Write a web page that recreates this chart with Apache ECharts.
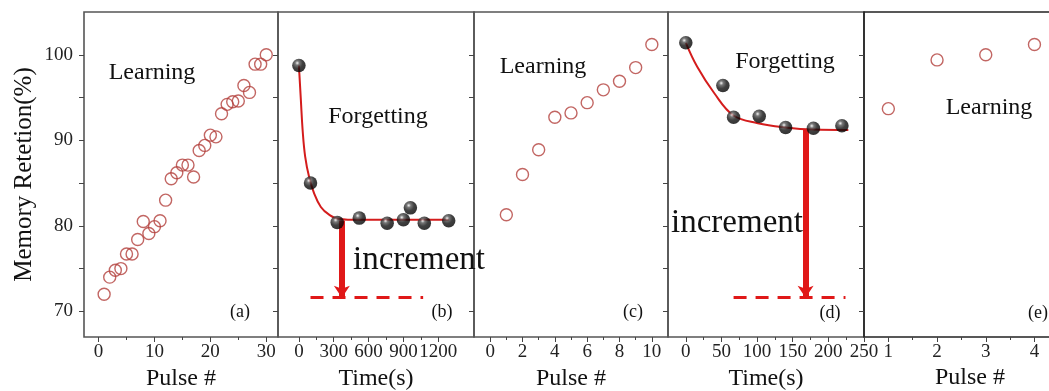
<!DOCTYPE html>
<html>
<head>
<meta charset="utf-8">
<script src="https://cdn.jsdelivr.net/npm/echarts@6/dist/echarts.min.js"></script>
<style>
  html, body { margin: 0; padding: 0; background: #fff; }
  #chart { width: 1049px; height: 391px; }
</style>
</head>
<body>
<div id="chart"></div>
<script>
// ---- data ----
// (a) learning, first round
const pulseA = [1,2,3,4,5,6,7,8,9,10,11,12,13,14,15,16,17,18,19,20,21,22,23,24,25,26,27,28,29,30];
const retentionA = [72.0,74.0,74.8,75.0,76.7,76.7,78.4,80.5,79.1,79.9,80.6,83.0,85.5,86.2,87.1,87.1,85.7,88.8,89.4,90.6,90.4,93.1,94.2,94.5,94.6,96.4,95.6,98.9,98.9,100.0];
// (b) forgetting after first round
const timeB = [0,100,330,520,760,900,960,1080,1290];
const retentionB = [98.75,85.0,80.4,80.9,80.3,80.7,82.1,80.3,80.6];
const fitTimeB = [0,17,32,54,88,131,189,260,345,517,1290];
const fitRetentionB = [98.75,94.7,91.2,88.1,85.7,83.8,82.2,81.3,80.8,80.7,80.7];
// (c) learning, second round
const pulseC = [1,2,3,4,5,6,7,8,9,10];
const retentionC = [81.3,86.0,88.9,92.7,93.2,94.4,95.9,96.9,98.5,101.2];
// (d) forgetting after second round
const timeD = [0,52,67,103,140,179,219];
const retentionD = [101.4,96.4,92.7,92.8,91.5,91.4,91.7];
const fitTimeD = [0,16,40,67,101,140,179,228];
const fitRetentionD = [101.4,98.6,95.5,92.9,92.0,91.5,91.25,91.2];
// (e) learning, third round
const pulseE = [1,2,3,4];
const retentionE = [93.7,99.4,100.0,101.2];

// increment markers: arrow [x, from, to] and dashed base [x0, x1, level]
const incrementB = { arrowX: 370, top: 80.6, bottom: 71.6, dashFrom: 100, dashTo: 1070 };
const incrementD = { arrowX: 168, top: 91.3, bottom: 71.6, dashFrom: 67, dashTo: 224 };

// axis ticks
const yRange = [67, 105];
const yMajor = [70, 80, 90, 100];
const yAll = [70, 75, 80, 85, 90, 95, 100];
const xTicksA = { range: [-2.6, 32.1], major: [0, 10, 20, 30], minor: [5, 15, 25] };
const xTicksB = { range: [-180, 1508], major: [0, 300, 600, 900, 1200], minor: [150, 450, 750, 1050] };
const xTicksC = { range: [-1, 11], major: [0, 2, 4, 6, 8, 10], minor: [1, 3, 5, 7, 9] };
const xTicksD = { range: [-25, 250], major: [0, 50, 100, 150, 200, 250], minor: [25, 75, 125, 175, 225] };
const xTicksE = { range: [0.5, 5.5], major: [1, 2, 3, 4, 5], minor: [1.5, 2.5, 3.5, 4.5] };

// ---- layout ----
const FONT = '"Liberation Serif", "Times New Roman", serif';
const TOP = 12, HEIGHT = 325;
// the last panel runs past the right edge of the page, so its axis title is placed by hand
const panels = [
  { left: 84,  width: 194, ticks: xTicksA, name: 'Pulse #' },
  { left: 278, width: 196, ticks: xTicksB, name: 'Time(s)' },
  { left: 474, width: 194, ticks: xTicksC, name: 'Pulse #' },
  { left: 668, width: 196, ticks: xTicksD, name: 'Time(s)' },
  { left: 864, width: 243.5, ticks: xTicksE, name: '' }
];

const plain = v => String(v);
const noLine = { show: false, onZero: false };

const grids = [], xAxes = [], yAxes = [];
panels.forEach((p, i) => {
  grids.push({
    left: p.left, top: TOP, width: p.width, height: HEIGHT,
    outerBoundsMode: 'none', containLabel: false,
    show: true, borderColor: i === 4 ? '#222' : '#555', borderWidth: 1.6,
    backgroundColor: 'transparent'
  });
  // labelled x axis with major ticks
  xAxes.push({
    type: 'value', gridIndex: i, position: 'bottom',
    min: p.ticks.range[0], max: p.ticks.range[1],
    axisLine: noLine, splitLine: { show: false },
    axisTick: { show: true, length: 5, customValues: p.ticks.major, lineStyle: { color: '#444', width: 1 } },
    axisLabel: { show: true, customValues: p.ticks.major, formatter: plain, margin: 6,
                 color: '#222', fontFamily: FONT, fontSize: 19 },
    name: p.name, nameLocation: 'middle', nameGap: 28,
    nameTextStyle: { fontFamily: FONT, fontSize: 24, color: '#111' }
  });
  // minor x ticks
  xAxes.push({
    type: 'value', gridIndex: i, position: 'bottom',
    min: p.ticks.range[0], max: p.ticks.range[1],
    axisLine: noLine, splitLine: { show: false },
    axisTick: { show: true, length: 3, customValues: p.ticks.minor, lineStyle: { color: '#444', width: 1 } },
    axisLabel: { show: false }
  });
  // left y axis (labels only on first panel)
  yAxes.push({
    type: 'value', gridIndex: i, position: 'left',
    min: yRange[0], max: yRange[1],
    axisLine: noLine, splitLine: { show: false },
    axisTick: { show: i === 0, inside: false, length: 5, customValues: yAll, lineStyle: { color: '#444' } },
    axisLabel: { show: i === 0, customValues: yMajor, formatter: plain, margin: 11,
                 color: '#222', fontFamily: FONT, fontSize: 19 },
    name: i === 0 ? 'Memory Retetion(%)' : '', nameLocation: 'middle', nameGap: 47,
    nameTextStyle: { fontFamily: FONT, fontSize: 25, color: '#111' }
  });
  // right y axis: inward ticks
  yAxes.push({
    type: 'value', gridIndex: i, position: 'right',
    min: yRange[0], max: yRange[1],
    axisLine: noLine, splitLine: { show: false },
    axisTick: { show: i < 4, inside: true, length: 5, customValues: yAll, lineStyle: { color: '#444' } },
    axisLabel: { show: false }
  });
});

const zip = (xs, ys) => xs.map((x, k) => [x, ys[k]]);

const hollow = (i, xs, ys) => ({
  type: 'scatter', xAxisIndex: i * 2, yAxisIndex: i * 2, data: zip(xs, ys),
  symbol: 'circle', symbolSize: 12, silent: true, z: 5,
  itemStyle: { color: 'rgba(255,255,255,0)', borderColor: '#b3403c', borderWidth: 1.4 }
});

const ball = {
  type: 'radial', x: 0.38, y: 0.32, r: 0.72,
  colorStops: [
    { offset: 0, color: '#f2f2f2' },
    { offset: 0.22, color: '#555' },
    { offset: 0.55, color: '#111' },
    { offset: 1, color: '#000' }
  ]
};
const solid = (i, xs, ys) => ({
  type: 'scatter', xAxisIndex: i * 2, yAxisIndex: i * 2, data: zip(xs, ys),
  symbol: 'circle', symbolSize: 13.5, silent: true, z: 6,
  itemStyle: { color: ball }
});

const RED = '#e01818';
const fit = (i, xs, ys, inc) => ({
  type: 'line', xAxisIndex: i * 2, yAxisIndex: i * 2, data: zip(xs, ys),
  smooth: 0.4, showSymbol: false, silent: true, z: 4,
  lineStyle: { color: '#d41c1c', width: 2 },
  markLine: {
    silent: true, animation: false, label: { show: false },
    data: [
      [ { coord: [inc.arrowX, inc.top], symbol: 'none' },
        { coord: [inc.arrowX, inc.bottom], symbol: 'arrow', symbolSize: [12, 12],
          lineStyle: { color: RED, width: 6, type: 'solid' } } ],
      [ { coord: [inc.dashFrom, inc.bottom], symbol: 'none' },
        { coord: [inc.dashTo, inc.bottom], symbol: 'none',
          lineStyle: { color: RED, width: 3, type: [13, 9] } } ]
    ]
  }
});

const series = [
  hollow(0, pulseA, retentionA),
  fit(1, fitTimeB, fitRetentionB, incrementB),
  solid(1, timeB, retentionB),
  hollow(2, pulseC, retentionC),
  fit(3, fitTimeD, fitRetentionD, incrementD),
  solid(3, timeD, retentionD),
  hollow(4, pulseE, retentionE)
];

const txt = (x, y, s, size) => ({
  type: 'text', x, y, z: 20, silent: true,
  style: { text: s, font: `${size}px ${FONT}`, fill: '#111', align: 'center', verticalAlign: 'middle' }
});

const graphic = [
  txt(152, 73, 'Learning', 24),
  txt(378, 117, 'Forgetting', 24),
  txt(543, 67, 'Learning', 24),
  txt(785, 62, 'Forgetting', 24),
  txt(989, 108, 'Learning', 24),
  txt(419, 260, 'increment', 33),
  txt(737, 223, 'increment', 33),
  txt(240, 312, '(a)', 18),
  txt(442, 312, '(b)', 18),
  txt(633, 312, '(c)', 18),
  txt(830, 313, '(d)', 18),
  txt(1038, 313, '(e)', 18),
  txt(970, 378, 'Pulse #', 24)
];

const chart = echarts.init(document.getElementById('chart'), null, { renderer: 'canvas' });
chart.setOption({
  animation: false,
  backgroundColor: '#fff',
  grid: grids,
  xAxis: xAxes,
  yAxis: yAxes,
  series,
  graphic
});
</script>
</body>
</html>
